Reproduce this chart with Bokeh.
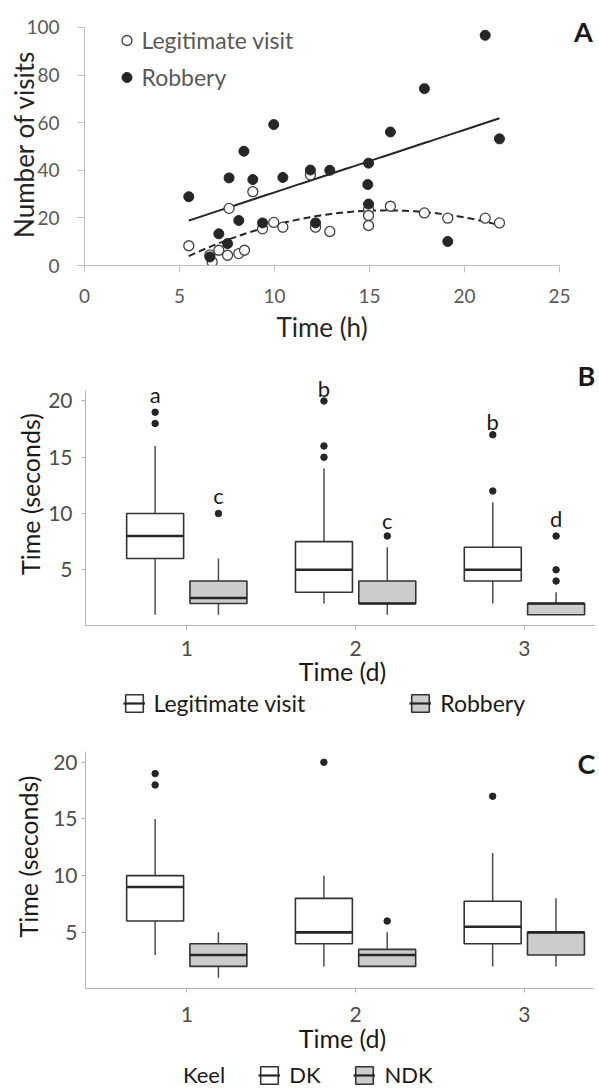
import numpy as np
from bokeh.plotting import figure
from bokeh.layouts import column, row
from bokeh.models import (ColumnDataSource, Range1d, FixedTicker, Legend, LegendItem, Label)
from bokeh.transform import dodge
from bokeh.embed import file_html
from bokeh.resources import INLINE

# ---------------- Panel A data ----------------
rob_h = [5.49, 6.60, 7.07, 7.53, 7.61, 8.12, 8.39, 8.86, 9.37, 9.96, 10.44,
         11.89, 12.16, 12.91, 14.91, 14.95, 14.95, 16.1, 17.89, 19.12, 21.09, 21.84]
rob_n = [28.9, 3.6, 13.3, 9.2, 36.8, 18.9, 48.0, 36.1, 17.9, 59.2, 37.0,
         40.1, 17.9, 40.0, 34.0, 43.0, 25.8, 56.1, 74.3, 10.1, 96.7, 53.2]
leg_h = [5.49, 6.60, 6.72, 7.07, 7.53, 7.61, 8.12, 8.42, 8.86, 9.37, 9.96, 10.44,
         11.89, 12.16, 12.91, 14.95, 14.95, 14.95, 16.1, 17.89, 19.12, 21.09, 21.84]
leg_n = [8.3, 4.5, 1.5, 6.4, 4.3, 24.0, 5.0, 6.4, 31.0, 15.4, 18.1, 16.1,
         38.1, 16.1, 14.3, 23.5, 21.0, 16.8, 24.9, 22.1, 19.9, 19.9, 17.9]
a_xticks = [0, 5, 10, 15, 20, 25]
a_yticks = [0, 20, 40, 60, 80, 100]

# ---------------- Panel B data ----------------
days = [1, 2, 3]
bl_q1 = [6, 3, 4]; bl_med = [8, 5, 5]; bl_q3 = [10, 7.5, 7]; bl_lo = [1, 2, 2]; bl_hi = [16, 14, 11]
bl_out_day = [1, 1, 2, 2, 2, 3, 3]; bl_out_val = [19, 18, 20, 16, 15, 17, 12]
br_q1 = [2, 2, 1]; br_med = [2.5, 2, 2]; br_q3 = [4, 4, 2]; br_lo = [1, 1, 1]; br_hi = [6, 7, 3]
br_out_day = [1, 2, 3, 3, 3]; br_out_val = [10, 8, 8, 5, 4]
bl_letters = ["a", "b", "b"]; bl_letter_y = [20.6, 21.1, 18.2]
br_letters = ["c", "c", "d"]; br_letter_y = [11.6, 9.4, 9.6]

# ---------------- Panel C data ----------------
dk_q1 = [6, 4, 4]; dk_med = [9, 5, 5.5]; dk_q3 = [10, 8, 7.75]; dk_lo = [3, 2, 2]; dk_hi = [15, 10, 12]
dk_out_day = [1, 1, 2, 3]; dk_out_val = [19, 18, 20, 17]
nd_q1 = [2, 2, 3]; nd_med = [3, 3, 5]; nd_q3 = [4, 3.5, 5]; nd_lo = [1, 2, 2]; nd_hi = [5, 5, 8]
nd_out_day = [2]; nd_out_val = [6]
bc_yticks = [5, 10, 15, 20]

FONT = "Lato"
OFF = 0.1875
BOXW = 0.3375
WHITE_FILL = "white"
GREY_FILL = "#cccccc"
BC_LEFT = 85   # common left border of the B/C frames (column aligns them)
NAN = float("nan")


def ext_range(lo, hi, span_px, extra_px):
    """Range whose data part [lo, hi] covers span_px pixels; the frame continues extra_px beyond hi."""
    per = (hi - lo) / span_px
    return Range1d(lo, hi + extra_px * per)


def base_fig(w, h, x_range, y_range, left, right, top, bottom, xb, yb):
    p = figure(width=w, height=h, x_range=x_range, y_range=y_range,
               output_backend="svg", toolbar_location=None,
               min_border_left=left, min_border_right=right,
               min_border_top=top, min_border_bottom=bottom)
    p.outline_line_color = None
    p.grid.visible = False
    p.background_fill_color = "white"
    p.border_fill_color = "white"
    for ax in (p.xaxis[0], p.yaxis[0]):
        ax.minor_tick_line_color = None
        ax.major_tick_in = 0
        ax.axis_label_text_font = FONT
        ax.axis_label_text_font_style = "normal"
        ax.major_label_text_font = FONT
    p.xaxis.bounds = xb
    p.yaxis.bounds = yb
    return p


def bare_fig(w, h, left=0):
    p = figure(width=w, height=h, x_range=Range1d(0, 1), y_range=Range1d(0, 1),
               output_backend="svg", toolbar_location=None,
               x_axis_location=None, y_axis_location=None,
               min_border_left=left, min_border_right=0, min_border_top=0, min_border_bottom=0)
    p.outline_line_color = None
    p.grid.visible = False
    p.background_fill_color = "white"
    p.border_fill_color = "white"
    return p


def make_legend(items, loc, gw, gh, standoff, spacing=0, size="23px", color="#595959",
                orientation="vertical"):
    return Legend(items=items, location=loc, orientation=orientation,
                  glyph_width=gw, glyph_height=gh, label_standoff=standoff, spacing=spacing,
                  padding=0, margin=0, border_line_color=None,
                  background_fill_alpha=0, label_text_font=FONT,
                  label_text_font_size=size, label_text_color=color)


def letter(x, y, t):
    return Label(x=x, y=y, x_units="screen", y_units="screen", text=t,
                 text_font=FONT, text_font_style="bold", text_font_size="27px",
                 text_align="center", text_baseline="middle", text_color="#1a1a1a")


# ================= Panel A =================
# data area: x 84..559 (0..25), y 267..27 (0..100); frame starts at y=22
pA = base_fig(570, 345, Range1d(0, 25), ext_range(0, 100, 240, 5), 84, 11, 22, 78, (0, 25), (0, 100))
for ax in (pA.xaxis[0], pA.yaxis[0]):
    ax.axis_line_color = "#bfbfbf"
    ax.major_tick_line_color = "#bfbfbf"
    ax.major_tick_out = 7
    ax.major_label_text_color = "#595959"
    ax.major_label_text_font_size = "19px"
    ax.axis_label_text_color = "#262626"
    ax.axis_label_text_font_size = "26px"
pA.xaxis.ticker = FixedTicker(ticks=a_xticks)
pA.yaxis.ticker = FixedTicker(ticks=a_yticks)
pA.xaxis.axis_label = "Time (h)"
pA.yaxis.axis_label = "Number of visits"
pA.xaxis.major_label_standoff = 16
pA.xaxis.axis_label_standoff = 5
pA.yaxis.major_label_standoff = 18
pA.yaxis.axis_label_standoff = -17

# trend lines fitted to the data
rx = np.array(rob_h); ry = np.array(rob_n)
lx = np.array(leg_h); ly = np.array(leg_n)
lin = np.polyfit(rx, ry, 1)
quad = np.polyfit(lx, ly, 2)
xs_r = np.linspace(rx.min(), rx.max(), 60)
xs_l = np.linspace(lx.min(), lx.max(), 60)
pA.line(xs_r, np.polyval(lin, xs_r), line_color="#262626", line_width=2)
pA.line(xs_l, np.polyval(quad, xs_l), line_color="#262626", line_width=2, line_dash="7 4")

r_leg = pA.scatter(leg_h, leg_n, size=10, fill_color="white", line_color="#404040", line_width=1.3)
r_rob = pA.scatter(rob_h, rob_n, size=10, fill_color="#262626", line_color="#262626")

pA.add_layout(make_legend([LegendItem(label="Legitimate visit", renderers=[r_leg])], (29.5, 210), 25, 30, 3))
pA.add_layout(make_legend([LegendItem(label="Robbery", renderers=[r_rob])], (29.5, 173), 25, 30, 3))

# the row aligns this frame with pA's frame (y 22..267)
pA_letter = bare_fig(29, 345)
pA_letter.add_layout(letter(13, 234, "A"))


# ================= box helpers =================
def draw_boxes(p, q1, med, q3, lo, hi, out_day, out_val, off, fill):
    src = ColumnDataSource(dict(day=days, q1=q1, med=med, q3=q3, lo=lo, hi=hi))
    xc = dodge("day", off, range=p.x_range)
    p.segment(x0=xc, y0="q3", x1=xc, y1="hi", source=src, line_color="#4d4d4d", line_width=1.5)
    p.segment(x0=xc, y0="q1", x1=xc, y1="lo", source=src, line_color="#4d4d4d", line_width=1.5)
    p.vbar(x=xc, width=BOXW, bottom="q1", top="q3", source=src, fill_color=fill,
           line_color="#333333", line_width=1.6)
    p.segment(x0=dodge("day", off - BOXW / 2, range=p.x_range), y0="med",
              x1=dodge("day", off + BOXW / 2, range=p.x_range), y1="med",
              source=src, line_color="#262626", line_width=2.6)
    osrc = ColumnDataSource(dict(day=out_day, val=out_val))
    p.scatter(x=dodge("day", off, range=p.x_range), y="val", source=osrc, size=6.5,
              fill_color="#262626", line_color="#262626")


def key_renderers(p, fill):
    """Renderers without drawable data (legend-only figure) whose legend glyphs draw a boxplot key."""
    box = p.vbar(x=[NAN], width=0.1, top=[NAN], bottom=[NAN], fill_color=fill,
                 line_color="#333333", line_width=1.6)
    med = p.segment(x0=[NAN], y0=[NAN], x1=[NAN], y1=[NAN], line_color="#262626", line_width=2.2)
    return [box, med]


def style_box_axes(p, xs, xls, ys, yls):
    for ax in (p.xaxis[0], p.yaxis[0]):
        ax.axis_line_color = "#b3b3b3"
        ax.major_tick_line_color = "#b3b3b3"
        ax.major_tick_out = 4
        ax.major_label_text_color = "#4d4d4d"
        ax.major_label_text_font_size = "21px"
        ax.axis_label_text_color = "#1a1a1a"
        ax.axis_label_text_font_size = "25px"
    p.xaxis.ticker = FixedTicker(ticks=days)
    p.yaxis.ticker = FixedTicker(ticks=bc_yticks)
    p.xaxis.axis_label = "Time (d)"
    p.yaxis.axis_label = "Time (seconds)"
    p.xaxis.major_label_standoff = xs
    p.xaxis.axis_label_standoff = xls
    p.yaxis.major_label_standoff = ys
    p.yaxis.axis_label_standoff = yls


# ================= Panel B =================
# data area: x 85..594 (0.4..3.415), y 627..390 (0.05..20.95); frame runs on to x=599 and up to y=362
pB = base_fig(599, 343, ext_range(0.4, 3.415, 509, 5), ext_range(0.05, 20.95, 237, 28),
              BC_LEFT, 0, 17, 61, (0.4, 3.415), (0.05, 20.95))
style_box_axes(pB, 11, -3, 9, 0)
draw_boxes(pB, bl_q1, bl_med, bl_q3, bl_lo, bl_hi, bl_out_day, bl_out_val, -OFF, WHITE_FILL)
draw_boxes(pB, br_q1, br_med, br_q3, br_lo, br_hi, br_out_day, br_out_val, OFF, GREY_FILL)
lsrc = ColumnDataSource(dict(day=days, y=bl_letter_y, t=bl_letters))
rsrc = ColumnDataSource(dict(day=days, y=br_letter_y, t=br_letters))
for s, off in ((lsrc, -OFF), (rsrc, OFF)):
    pB.text(x=dodge("day", off, range=pB.x_range), y="y", text="t", source=s,
            text_font={"value": FONT}, text_font_size="22px", text_color="#1a1a1a",
            text_align="center", text_baseline="middle")
pB.add_layout(letter(586 - BC_LEFT, 250, "B"))

legB_fig = bare_fig(599, 32, BC_LEFT)
kl = key_renderers(legB_fig, WHITE_FILL)
kr = key_renderers(legB_fig, GREY_FILL)
legB_fig.add_layout(make_legend([LegendItem(label="Legitimate visit", renderers=kl),
                                 LegendItem(label="Robbery", renderers=kr)],
                                (122.5 - BC_LEFT, 3), 22, 22, 9, spacing=104, color="#1a1a1a",
                                orientation="horizontal"))

# ================= Panel C =================
# data area: x 85..593 (0.4..3.41), y 988..751 (0.05..20.95); frame runs up to y=724
pC = base_fig(599, 340, ext_range(0.4, 3.41, 508, 6), ext_range(0.05, 20.95, 237, 27),
              BC_LEFT, 0, 4, 72, (0.4, 3.41), (0.05, 20.95))
style_box_axes(pC, 14, -2, 4, 7)
draw_boxes(pC, dk_q1, dk_med, dk_q3, dk_lo, dk_hi, dk_out_day, dk_out_val, -OFF, WHITE_FILL)
draw_boxes(pC, nd_q1, nd_med, nd_q3, nd_lo, nd_hi, nd_out_day, nd_out_val, OFF, GREY_FILL)
pC.add_layout(letter(586 - BC_LEFT, 225, "C"))

legC_fig = bare_fig(599, 29, BC_LEFT)
title_r = legC_fig.scatter(x=[NAN], y=[NAN], alpha=0)
kd = key_renderers(legC_fig, WHITE_FILL)
kn = key_renderers(legC_fig, GREY_FILL)
legC_fig.add_layout(make_legend([LegendItem(label="Keel", renderers=[title_r]),
                                 LegendItem(label="DK", renderers=kd),
                                 LegendItem(label="NDK", renderers=kn)],
                                (152 - BC_LEFT, 1), 22, 22, 9, spacing=33, size="22px",
                                color="#1a1a1a", orientation="horizontal"))

layout = column(row(pA, pA_letter, spacing=0), pB, legB_fig, pC, legC_fig, spacing=0)
open("out.html", "w").write(file_html(layout, INLINE))
